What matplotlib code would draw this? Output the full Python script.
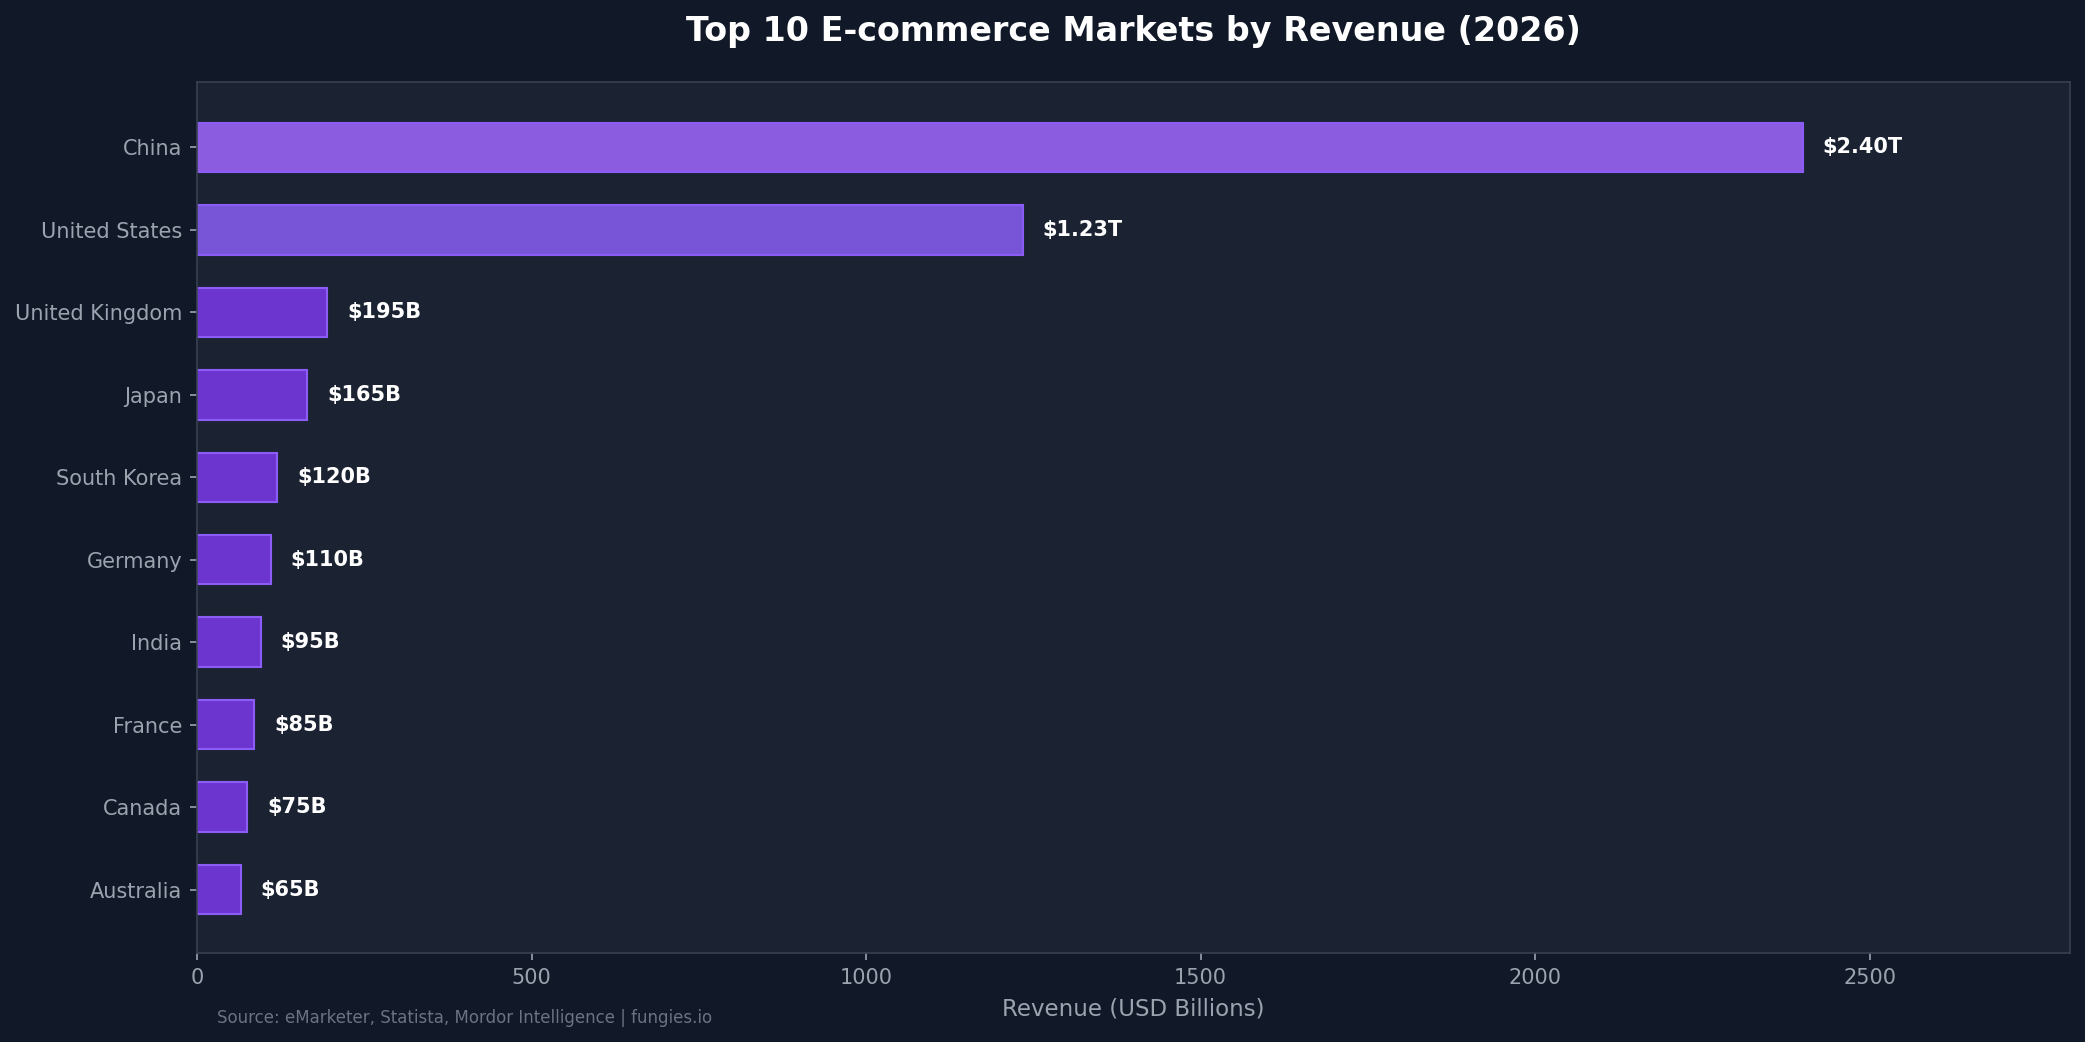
import matplotlib
matplotlib.use("Agg")
import matplotlib.pyplot as plt

# data (USD billions), top to bottom
countries = ["China", "United States", "United Kingdom", "Japan", "South Korea",
             "Germany", "India", "France", "Canada", "Australia"]
revenue = [2400, 1234, 195, 165, 120, 110, 95, 85, 75, 65]
labels = ["$2.40T", "$1.23T", "$195B", "$165B", "$120B",
          "$110B", "$95B", "$85B", "$75B", "$65B"]
bar_colors = ["#8b5ce0", "#7855d6"] + ["#6d35d0"] * 8

fig_bg = "#111827"
ax_bg = "#1b2332"
muted = "#9ca3af"

fig = plt.figure(figsize=(13.9, 6.947), dpi=150, facecolor=fig_bg)
ax = fig.add_axes([0.0945, 0.0854, 0.8985, 0.8356])
ax.set_facecolor(ax_bg)

ypos = list(range(len(countries)))[::-1]
ax.barh(ypos, revenue, height=0.6, color=bar_colors,
        edgecolor="#8b5cf6", linewidth=1)

for y, v, lab in zip(ypos, revenue, labels):
    ax.text(v + 30, y, lab, va="center", ha="left", color="white",
            fontsize=10, fontweight="bold")

ax.set_yticks(ypos)
ax.set_yticklabels(countries)
ax.set_xlim(0, 2800)
ax.set_ylim(-0.77, 9.79)
ax.set_xticks([0, 500, 1000, 1500, 2000, 2500])

ax.tick_params(colors=muted, labelsize=10)
ax.tick_params(axis="both", color=muted)
for s in ax.spines.values():
    s.set_color("#374151")

ax.set_xlabel("Revenue (USD Billions)", color=muted, fontsize=11, labelpad=4.5)
ax.set_title("Top 10 E-commerce Markets by Revenue (2026)", color="white",
             fontsize=16, fontweight="bold", pad=20)
fig.text(0.104, 0.018, "Source: eMarketer, Statista, Mordor Intelligence | fungies.io",
         color="#6b7280", fontsize=8)

fig.savefig("out.png", dpi=150, facecolor=fig_bg)
